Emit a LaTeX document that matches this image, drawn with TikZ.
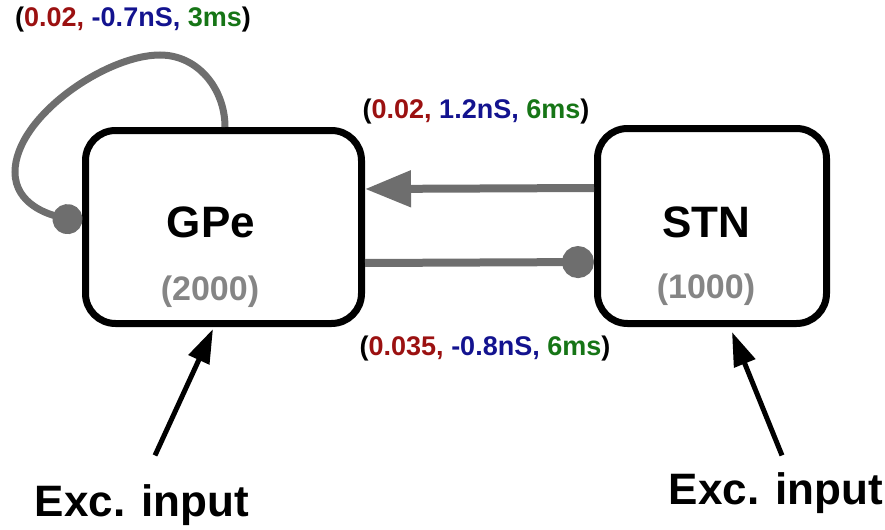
\documentclass[tikz,border=0pt]{standalone}
\usepackage{fontspec}
\setmainfont{Liberation Sans}
\usepackage{tikz}
\usetikzlibrary{positioning,
				arrows.meta}
\definecolor{wred}{HTML}{9B1111}
\definecolor{wblue}{HTML}{13138F}
\definecolor{wgreen}{HTML}{167516}
\definecolor{syngray}{HTML}{6E6E6E}
\definecolor{popgray}{HTML}{858585}
\newcommand{\synpar}[3]{(\textcolor{wred}{#1,} \textcolor{wblue}{#2,} \textcolor{wgreen}{#3})}
\tikzset{
  pop/.style={draw=black, line width=3.5pt, rounded corners=15pt, inner sep=0pt},
  popname/.style={font=\fontsize{22}{26}\selectfont\bfseries},
  popsize/.style={font=\fontsize{17}{20}\selectfont\bfseries, text=popgray},
  synlabel/.style={font=\fontsize{13.5}{16}\selectfont\bfseries},
  inlabel/.style={font=\fontsize{22}{26}\selectfont\bfseries},
  synexc/.style={draw=syngray, line width=4pt, -{Triangle[length=23pt,width=17.5pt]}},
  syninh/.style={draw=syngray, line width=4pt, -{Circle[length=16pt]}},
  excin/.style={draw=black, line width=2.5pt, -{Triangle[length=17pt,width=11pt]}}
}
\begin{document}
\begin{tikzpicture}[x=0.5pt,y=0.5pt]
  \useasboundingbox (0,0) rectangle (885,-530);
  \node[pop, minimum width=138pt, minimum height=96.5pt] (gpe) at (223.5,-227) {};
  \node[pop, minimum width=114.5pt, minimum height=97.5pt] (stn) at (712,-226) {};
  \node[popname] (gpename) at (211,-222) {GPe};
  \node[popsize] (gpesize) at (210,-292) {(2000)};
  \node[popname] (stnname) at (706,-222) {STN};
  \node[popsize] (stnsize) at (706,-290) {(1000)};
  \draw[synexc] ([yshift=19pt]stn.west) -- ([yshift=19pt]gpe.east);
  \draw[syninh] ([yshift=-18pt]gpe.east) -- ([yshift=-18pt]stn.west);
  \draw[syngray, line width=3.5pt, -{Circle[length=15pt]}] ([xshift=0.75pt]gpe.north)
    to[out=90,in=0] (160,-55) to[out=180,in=90,looseness=0.75] (15,-172)
    to[out=-90,in=165] ([yshift=2pt]gpe.west);
  \node[synlabel] (gpegpe) at (133,-20) {\synpar{0.02}{-0.7nS}{3ms}};
  \node[synlabel] (stngpe) at (476,-112) {\synpar{0.02}{1.2nS}{6ms}};
  \node[synlabel] (gpestn) at (485,-349) {\synpar{0.035}{-0.8nS}{6ms}};
  \node[inlabel] (gpein) at (142,-505) {Exc. input};
  \node[inlabel] (stnin) at (776,-493) {Exc. input};
  \draw[excin] ([xshift=6.5pt,yshift=11pt]gpein.north) -- ([xshift=-5.25pt,yshift=-1pt]gpe.south);
  \draw[excin] ([xshift=3pt,yshift=5pt]stnin.north) -- ([xshift=10pt,yshift=-2.5pt]stn.south);
\end{tikzpicture}
\end{document}
